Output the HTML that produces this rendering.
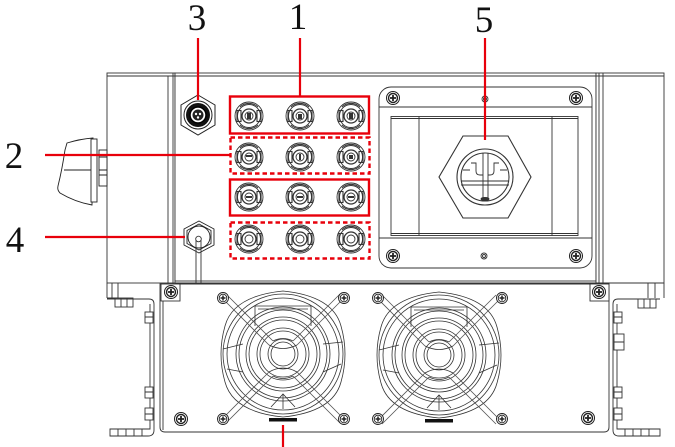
<!DOCTYPE html>
<html><head><meta charset="utf-8"><style>
html,body{margin:0;padding:0;background:#fff;}
svg{display:block;}
text{font-family:"Liberation Serif",serif;font-size:37px;fill:#111;}
</style></head><body>
<svg width="675" height="447" viewBox="0 0 675 447" xmlns="http://www.w3.org/2000/svg">
<defs>
  <g id="conn" fill="none" stroke="#333" stroke-width="0.9">
    <circle r="14" fill="#fff"/>
    <circle r="11.5"/>
    <path d="M-9,-9 A13,13 0 0 1 9,-9 M-9,9 A13,13 0 0 0 9,9"/>
    <rect x="-12" y="-5.5" width="4" height="11" stroke-width="1.1"/>
    <rect x="8" y="-5.5" width="4" height="11" stroke-width="1.1"/>
    <circle r="7" stroke-width="1.3"/>
    <circle r="4"/>
  </g>
  <g id="scr" fill="#fff" stroke="#222" stroke-width="0.9">
    <circle r="5.5"/>
    <circle r="3.8" fill="none"/>
    <path d="M-2.5,0 H2.5 M0,-2.5 V2.5" stroke-width="1.5"/>
  </g>
  <g id="scrb" fill="#fff" stroke="#222" stroke-width="1">
    <circle r="6.5"/>
    <circle r="4.5" fill="none" stroke-width="1.4"/>
    <path d="M-3,0 H3 M0,-3 V3" stroke-width="1.8"/>
  </g>
  <g id="fan" fill="none" stroke="#333" stroke-width="0.8">
    <path d="M-58,-28 Q-66,0 -58,28 Q-50,58 0,63 Q50,58 58,28 Q66,0 58,-28 Q50,-58 0,-63 Q-50,-58 -58,-28 Z"/>
    <circle r="60"/>
    <circle r="56"/>
    <path d="M-28,-48 V-28 M28,-48 V-28 M-28,-48 H28 M-25,-45 H25"/>
    <path d="M-60,-5 L-40,-10 M40,-10 L60,-12 M-56,15 L-40,18 M40,18 L58,10"/>
    <circle r="47"/>
    <circle r="44"/>
    <circle r="37"/>
    <circle r="34"/>
    <circle r="26"/>
    <circle r="23"/>
    <circle r="15"/>
    <circle r="12"/>
    <path d="M-61,-56 L-14,-9 M-57,-60 L-10,-13 M61,-56 L14,-9 M57,-60 L10,-13 M-61,65 L-14,18 M-57,69 L-10,22 M61,65 L14,18 M57,69 L10,22" stroke="#555"/>
    <path d="M-14,-9 Q0,-2 14,-9 M-14,18 Q0,10 14,18 M-10,-13 Q0,-18 10,-13 M-10,22 Q0,27 10,22"/>
    <path d="M-12,53 L0,40 L12,53 M0,40 V55"/>
    <rect x="-14" y="64" width="28" height="3.5" fill="#111" stroke="none"/>
  </g>
</defs>

<!-- labels -->
<text x="197" y="30" text-anchor="middle">3</text>
<text x="298" y="29" text-anchor="middle">1</text>
<text x="484" y="32" text-anchor="middle">5</text>
<text x="14" y="168" text-anchor="middle">2</text>
<text x="15" y="252" text-anchor="middle">4</text>

<g fill="none" stroke="#333" stroke-width="0.9">
  <!-- left side panel -->
  <rect x="107" y="73" width="68" height="210" fill="#fff"/>
  <line x1="107" y1="76" x2="175" y2="76"/>
  <line x1="168" y1="76" x2="168" y2="283"/>
  <line x1="173" y1="73" x2="173" y2="300"/>
  <!-- left feet -->
  <path d="M107,283 V298 M112,283 V298 M118,283 V298 M107,298 H118"/>
  <rect x="115" y="298" width="18" height="9" fill="#fff"/>
  <path d="M121,298 V307 M127,298 V307"/>
  <!-- main front panel -->
  <rect x="175" y="73" width="421" height="208" fill="#fff"/>
  <line x1="175" y1="76" x2="596" y2="76"/>
  <!-- right strip + side panel -->
  <rect x="596" y="73" width="68" height="210" fill="#fff"/>
  <line x1="596" y1="76" x2="664" y2="76"/>
  <line x1="599" y1="73" x2="599" y2="283"/>
  <line x1="603" y1="73" x2="603" y2="283"/>
  <path d="M664,283 V298 M655,283 V298 M648,283 V298"/>
  <rect x="638" y="299" width="18" height="9" fill="#fff"/>
  <path d="M644,299 V308 M650,299 V308"/>
  <line x1="175" y1="283" x2="664" y2="283"/>
</g>

<!-- handle -->
<g fill="#fff" stroke="#222" stroke-width="0.9">
  <path d="M67,143 Q80,139 93,138 L92,205 Q75,202 60,193 Q57,190 58,186 Q62,170 65,150 Z"/>
  <line x1="64" y1="170" x2="91" y2="170"/>
  <rect x="91" y="139" width="6" height="63"/>
  <rect x="99" y="150" width="8" height="36"/>
  <path d="M99,157 H107 M99,170 H107 M99,175 H107"/>
</g>

<!-- connector 3 -->
<g transform="translate(198,115)">
  <path d="M0,-20 L17,-10 L17,10 L0,20 L-17,10 L-17,-10 Z" fill="#fff" stroke="#222" stroke-width="1"/>
  <circle r="14" fill="none" stroke="#222" stroke-width="1"/>
  <circle r="12" fill="#111"/>
  <circle r="8" fill="#fff" stroke="#000" stroke-width="1.5"/>
  <circle r="5.5" fill="#222"/>
  <circle cx="-2" cy="-1" r="1.2" fill="#fff"/><circle cx="2" cy="-1" r="1.2" fill="#fff"/><circle cx="0" cy="2.5" r="1.2" fill="#fff"/>
</g>

<!-- connector 4 -->
<g transform="translate(199,237)" fill="#fff" stroke="#222" stroke-width="0.9">
  <path d="M0,-16 L15,-8 L15,8 L0,16 L-15,8 L-15,-8 Z" stroke-linejoin="round"/>
  <path d="M0,-13 L12,-6.5 L12,6.5 L0,13 L-12,6.5 L-12,-6.5 Z" fill="none"/>
  <circle r="11"/>
</g>
<g fill="#fff" stroke="#333" stroke-width="0.9">
  <path d="M196,239 V283 M201,239 V283"/>
  <circle cx="198.5" cy="239" r="2.8"/>
</g>

<!-- small connectors -->
<use href="#conn" x="249" y="116"/><use href="#conn" x="300" y="116"/><use href="#conn" x="351" y="116"/>
<use href="#conn" x="249" y="157"/><use href="#conn" x="300" y="157"/><use href="#conn" x="351" y="157"/>
<use href="#conn" x="249" y="197"/><use href="#conn" x="300" y="197"/><use href="#conn" x="351" y="197"/>
<use href="#conn" x="249" y="239"/><use href="#conn" x="300" y="239"/><use href="#conn" x="351" y="239"/>
<g fill="#333">
  <path d="M247,113 h4 v6 h-4 z M298,114 h4 v5 h-4z M349,113 h4 v6 h-4z M246,155 h6 v2 h-6z M299,154 h2 v6 h-2z M349,155 h4 v4 h-4z M246,196 h6 v2 h-6z M297,196 h6 v2 h-6z M348,196 h6 v2 h-6z"/>
</g>

<!-- red boxes -->
<g fill="none" stroke="#e8000b" stroke-width="2.4">
  <rect x="230" y="96.5" width="139" height="37"/>
  <rect x="230" y="179.5" width="139" height="36"/>
  <rect x="230.5" y="137.5" width="139" height="36" stroke-dasharray="4.5 3"/>
  <rect x="230.5" y="222.5" width="139" height="36" stroke-dasharray="4.5 3"/>
</g>

<!-- panel 5 -->
<g fill="none" stroke="#333" stroke-width="0.9">
  <rect x="379" y="87" width="213" height="181" rx="12" fill="#fff"/>
  <line x1="379" y1="107" x2="592" y2="107"/>
  <line x1="379" y1="238" x2="592" y2="238"/>
  <rect x="391" y="116.5" width="187" height="119" fill="#fff"/>
  <line x1="391" y1="118.5" x2="578" y2="118.5"/>
  <line x1="391" y1="233.5" x2="578" y2="233.5"/>
  <line x1="419" y1="116.5" x2="419" y2="235.5"/>
  <line x1="552" y1="116.5" x2="552" y2="235.5"/>
  <circle cx="485" cy="99" r="3"/><circle cx="485" cy="99" r="1.5"/>
  <circle cx="484" cy="256" r="3"/><circle cx="484" cy="256" r="1.5"/>
  <!-- gland -->
  <path d="M463,136 L508,136 L531,177 L508,218 L463,218 L439,177 Z" fill="#fff" stroke-width="1.1"/>
  <circle cx="485" cy="177" r="28" stroke-width="1.1"/>
  <circle cx="485" cy="177" r="24" stroke-width="1.1"/>
  <path d="M461,181 H509 M461,185 H509 M483,153 V199 M488,153 V199"/>
  <path d="M471,163 h5 v8 q0,4 4,4 h3 M499,163 h-5 v8 q0,4 -4,4 h-2"/>
  <path d="M463,170 H470 M500,170 H507"/>
  <ellipse cx="485" cy="199" rx="4" ry="1.5" fill="#333"/>
</g>
<use href="#scrb" x="393" y="98"/><use href="#scrb" x="576" y="98"/>
<use href="#scrb" x="393" y="256"/><use href="#scrb" x="576" y="256"/>

<!-- fan box & brackets -->
<g fill="none" stroke="#333" stroke-width="0.9">
  <path d="M160,284 H609 V427 Q609,432 604,432 H165 Q160,432 160,427 Z" fill="#fff"/>
  <line x1="163" y1="300" x2="163" y2="430"/>
  <!-- left bracket -->
  <path d="M107,299 H149 Q154,299 154,304 V430 Q154,436 148,436 H110 V429 H150 V304"/>
  <path d="M118,429 V436 M126,429 V436 M134,429 V436 M142,429 V436"/>
  <rect x="145" y="312" width="8" height="11" fill="#fff"/>
  <rect x="145" y="387" width="8" height="11" fill="#fff"/>
  <rect x="145" y="408" width="8" height="12" fill="#fff"/>
  <path d="M145,317 H153 M145,392 H153 M145,414 H153"/>
  <!-- right bracket -->
  <path d="M660,299 H618 Q613,299 613,304 V430 Q613,436 619,436 H660 V429 H617 V304"/>
  <path d="M625,429 V436 M633,429 V436 M641,429 V436 M649,429 V436"/>
  <rect x="614" y="312" width="8" height="11" fill="#fff"/>
  <rect x="614" y="334" width="10" height="16" fill="#fff"/>
  <rect x="614" y="387" width="8" height="11" fill="#fff"/>
  <rect x="614" y="408" width="8" height="12" fill="#fff"/>
  <path d="M614,317 H622 M614,342 H624 M614,392 H622 M614,414 H622"/>
  <!-- screw blocks -->
  <rect x="161" y="284" width="19" height="17" fill="#fff"/>
  <rect x="590" y="284" width="19" height="17" fill="#fff"/>
</g>
<use href="#scrb" x="171" y="292"/><use href="#scrb" x="599" y="292"/>
<use href="#scrb" x="181" y="419"/><use href="#scrb" x="588" y="418"/>

<!-- fans -->
<use href="#fan" x="283" y="354"/>
<use href="#fan" x="439" y="355"/>
<use href="#scr" x="223" y="298"/><use href="#scr" x="344" y="298"/>
<use href="#scr" x="223" y="419"/><use href="#scr" x="344" y="419"/>
<use href="#scr" x="378" y="298"/><use href="#scr" x="502" y="298"/>
<use href="#scr" x="378" y="419"/><use href="#scr" x="502" y="419"/>

<!-- red leader lines -->
<g stroke="#e8000b" stroke-width="2.2" fill="none">
  <line x1="198" y1="38" x2="198" y2="100"/>
  <line x1="300" y1="38" x2="300" y2="96"/>
  <line x1="485" y1="38" x2="485" y2="140"/>
  <line x1="45" y1="155" x2="230" y2="155"/>
  <line x1="45" y1="237" x2="185" y2="237"/>
  <line x1="283" y1="425" x2="283" y2="447"/>
</g>
</svg>
</body></html>
